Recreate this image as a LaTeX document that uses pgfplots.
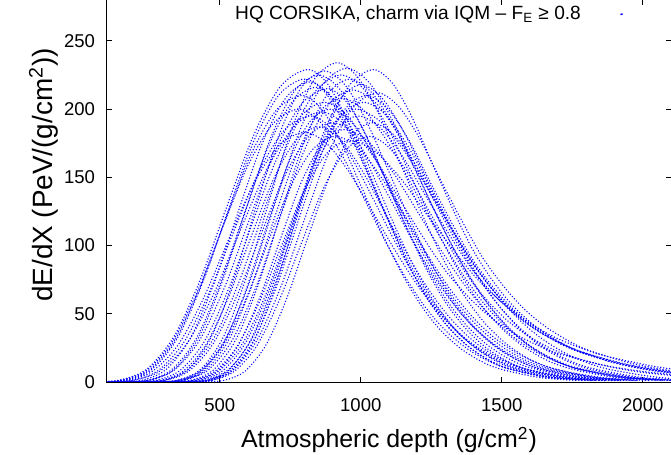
\documentclass[border=0pt]{standalone}
\usepackage{fontspec}
\setmainfont{Liberation Sans}
\usepackage{pgfplots}
\pgfplotsset{compat=1.18}
\begin{document}
\begin{tikzpicture}
\begin{axis}[
  scale only axis, width=282bp, height=191bp,
  xmin=100, xmax=2100, ymin=0, ymax=280,
  xtick={500,1000,1500,2000}, ytick={0,50,100,150,200,250},
  tick align=inside, major tick length=2.5bp,
  axis line style={line width=0.5bp, black},
  every tick/.style={black, line width=0.5bp},
  /pgf/number format/assume math mode=true,
  /pgf/number format/set thousands separator={},
  tick label style={font=\fontsize{9.3}{11}\selectfont},
  xticklabel style={yshift=-5bp},
  yticklabel style={xshift=-2.5bp},
  xlabel={Atmospheric depth (g/cm\textsuperscript{2})},
  ylabel={dE/dX (PeV/(g/cm\textsuperscript{2}))},
  xlabel style={font=\fontsize{12.5}{14}\selectfont, at={(axis description cs:0.5,-0.152)}, anchor=center},
  ylabel style={font=\fontsize{14}{16}\selectfont, at={(axis description cs:-0.112,0.542)}, anchor=center, rotate=0},
  legend plot pos=right,
  legend style={draw=none, fill=none, inner sep=0pt, nodes={inner sep=0pt},
    font=\fontsize{9.6}{11}\selectfont,
    at={(rel axis cs:0.919,0.963)}, anchor=east},
  legend image code/.code={\fill[blue] (0.70cm,0) circle (0.4bp); \path (0,0) (0.75cm,0);},
  cv/.style={blue, line width=0.75bp, line cap=round, dash pattern=on 0pt off 1.5bp, smooth},
]
% curve 1
\addplot[cv] coordinates {(195,0)(275,0.07)(355,1.5)(435,9.8)(515,33.9)(595,77.2)(675,132.7)(755,185.8)(835,221.8)(915,234)(990,223.2)(1065,196.1)(1140,160.5)(1215,124.0)(1290,91.0)(1365,63.8)(1440,43.1)(1515,28.1)(1590,17.7)(1665,10.9)(1815,3.8)(1965,1.2)};
\addlegendentry{HQ CORSIKA, charm via IQM -- F\textsubscript{E} ≥ 0.8}
% curve 2
\addplot[cv] coordinates {(-43,0)(52,0.07)(147,1.5)(242,9.6)(337,33.2)(432,75.6)(527,129.8)(622,181.8)(717,217.1)(812,229)(882,218.5)(952,191.9)(1022,157.1)(1092,121.4)(1162,89.1)(1232,62.4)(1302,42.1)(1372,27.5)(1442,17.3)(1512,10.6)(1652,3.7)(1792,1.2)};
% curve 3
\addplot[cv] coordinates {(278,0)(363,0.07)(448,1.5)(533,9.6)(618,33.2)(703,75.6)(788,129.8)(873,181.8)(958,217.1)(1043,229)(1113,218.7)(1183,193.5)(1253,160.3)(1323,128.2)(1393,98.5)(1463,75.6)(1533,57.3)(1603,43.5)(1673,33.2)(1743,25.2)(1883,14.9)(2023,8.7)(2163,5.0)};
% curve 4
\addplot[cv] coordinates {(85,0)(170,0.07)(255,1.5)(340,9.5)(425,32.6)(510,74.3)(595,127.6)(680,178.7)(765,213.3)(850,225)(925,214.7)(1000,188.6)(1075,154.4)(1150,119.3)(1225,87.5)(1300,61.3)(1375,41.4)(1450,27.0)(1525,17.0)(1600,10.5)(1750,3.7)(1900,1.2)};
% curve 5
\addplot[cv] coordinates {(240,0)(320,0.07)(400,1.4)(480,9.3)(560,32.2)(640,73.3)(720,125.9)(800,176.3)(880,210.5)(960,222)(1040,211.8)(1120,186.0)(1200,152.3)(1280,117.7)(1360,86.4)(1440,60.5)(1520,40.8)(1600,26.6)(1680,16.8)(1760,10.3)(1920,3.6)(2080,1.2)};
% curve 6
\addplot[cv] coordinates {(325,0)(400,0.07)(475,1.4)(550,9.2)(625,31.6)(700,71.9)(775,123.6)(850,173.1)(925,206.7)(1000,218)(1075,208.2)(1150,184.2)(1225,152.6)(1300,122.1)(1375,93.7)(1450,71.9)(1525,54.5)(1600,41.4)(1675,31.6)(1750,24.0)(1900,14.2)(2050,8.3)(2200,4.8)};
% curve 7
\addplot[cv] coordinates {(70,0)(160,0.06)(250,1.4)(340,9.0)(430,31.2)(520,71.0)(610,121.9)(700,170.7)(790,203.8)(880,215)(950,205.1)(1020,180.2)(1090,147.5)(1160,114.0)(1230,83.6)(1300,58.6)(1370,39.6)(1440,25.8)(1510,16.3)(1580,10.0)(1720,3.5)(1860,1.1)};
% curve 8
\addplot[cv] coordinates {(292,0)(377,0.06)(462,1.4)(547,8.9)(632,30.7)(717,70.0)(802,120.2)(887,168.3)(972,201.0)(1057,212)(1132,202.5)(1207,179.1)(1282,148.4)(1357,118.7)(1432,91.2)(1507,70.0)(1582,53.0)(1657,40.3)(1732,30.7)(1807,23.3)(1957,13.8)(2107,8.1)(2257,4.7)};
% curve 9
\addplot[cv] coordinates {(-20,0)(70,0.06)(160,1.4)(250,8.8)(340,30.5)(430,69.3)(520,119.1)(610,166.7)(700,199.1)(790,210)(860,200.3)(930,176.0)(1000,144.1)(1070,111.3)(1140,81.7)(1210,57.2)(1280,38.6)(1350,25.2)(1420,15.9)(1490,9.8)(1630,3.4)(1770,1.1)};
% curve 10
\addplot[cv] coordinates {(210,0)(290,0.06)(370,1.4)(450,8.7)(530,30.2)(610,68.6)(690,117.9)(770,165.2)(850,197.2)(930,208)(1015,198.4)(1100,174.3)(1185,142.7)(1270,110.2)(1355,80.9)(1440,56.7)(1525,38.3)(1610,25.0)(1695,15.7)(1780,9.7)(1950,3.4)(2120,1.1)};
% curve 11
\addplot[cv] coordinates {(105,0)(190,0.06)(275,1.3)(360,8.6)(445,29.7)(530,67.7)(615,116.2)(700,162.8)(785,194.3)(870,205)(950,195.6)(1030,171.8)(1110,140.6)(1190,108.7)(1270,79.7)(1350,55.9)(1430,37.7)(1510,24.6)(1590,15.5)(1670,9.5)(1830,3.3)(1990,1.1)};
% curve 12
\addplot[cv] coordinates {(305,0)(380,0.06)(455,1.3)(530,8.4)(605,29.0)(680,66.0)(755,113.4)(830,158.8)(905,189.6)(980,200)(1070,190.8)(1160,167.6)(1250,137.2)(1340,106.0)(1430,77.8)(1520,54.5)(1610,36.8)(1700,24.0)(1790,15.1)(1880,9.3)(2060,3.3)(2240,1.1)};
% curve 13
\addplot[cv] coordinates {(10,0)(100,0.06)(190,1.3)(280,8.2)(370,28.3)(460,64.4)(550,110.6)(640,154.8)(730,184.9)(820,195)(895,186.0)(970,163.4)(1045,133.8)(1120,103.4)(1195,75.9)(1270,53.1)(1345,35.9)(1420,23.4)(1495,14.8)(1570,9.1)(1720,3.2)(1870,1.0)};
% curve 14
\addplot[cv] coordinates {(135,0)(220,0.06)(305,1.2)(390,8.0)(475,27.6)(560,62.7)(645,107.7)(730,150.9)(815,180.1)(900,190)(980,181.5)(1060,160.6)(1140,133.0)(1220,106.4)(1300,81.7)(1380,62.7)(1460,47.5)(1540,36.1)(1620,27.6)(1700,20.9)(1860,12.4)(2020,7.2)(2180,4.2)};
% curve 15
\addplot[cv] coordinates {(130,0)(210,0.06)(290,1.2)(370,7.9)(450,27.1)(530,61.7)(610,106.0)(690,148.5)(770,177.3)(850,187)(925,178.4)(1000,156.7)(1075,128.3)(1150,99.1)(1225,72.7)(1300,51.0)(1375,34.4)(1450,22.4)(1525,14.2)(1600,8.7)(1750,3.0)(1900,1.0)};
% curve 16
\addplot[cv] coordinates {(265,0)(340,0.06)(415,1.2)(490,7.8)(565,26.8)(640,61.1)(715,104.9)(790,146.9)(865,175.4)(940,185)(1025,176.5)(1110,155.0)(1195,126.9)(1280,98.1)(1365,72.0)(1450,50.4)(1535,34.0)(1620,22.2)(1705,14.0)(1790,8.6)(1960,3.0)(2130,1.0)};
% curve 17
\addplot[cv] coordinates {(-10,0)(80,0.05)(170,1.2)(260,7.7)(350,26.5)(440,60.4)(530,103.8)(620,145.3)(710,173.5)(800,183)(880,174.6)(960,153.4)(1040,125.5)(1120,97.0)(1200,71.2)(1280,49.9)(1360,33.7)(1440,22.0)(1520,13.9)(1600,8.5)(1760,3.0)(1920,1.0)};
% curve 18
\addplot[cv] coordinates {(240,0)(320,0.05)(400,1.2)(480,7.4)(560,25.7)(640,58.4)(720,100.4)(800,140.5)(880,167.8)(960,177)(1050,169.0)(1140,149.6)(1230,123.9)(1320,99.1)(1410,76.1)(1500,58.4)(1590,44.3)(1680,33.6)(1770,25.7)(1860,19.5)(2040,11.5)(2220,6.7)(2400,3.9)};
% curve 19
\addplot[cv] coordinates {(310,0)(390,0.05)(470,1.2)(550,7.6)(630,26.1)(710,59.4)(790,102.1)(870,142.9)(950,170.6)(1030,180)(1100,171.9)(1170,152.1)(1240,126.0)(1310,100.8)(1380,77.4)(1450,59.4)(1520,45.0)(1590,34.2)(1660,26.1)(1730,19.8)(1870,11.7)(2010,6.8)(2150,4.0)};
% curve 20
\addplot[cv] coordinates {(215,0)(290,0.06)(365,1.3)(440,8.4)(515,29.0)(590,66.0)(665,113.4)(740,158.8)(815,189.6)(890,200)(965,190.8)(1040,167.6)(1115,137.2)(1190,106.0)(1265,77.8)(1340,54.5)(1415,36.8)(1490,24.0)(1565,15.1)(1640,9.3)(1790,3.3)(1940,1.1)};
% curve 21
\addplot[cv] coordinates {(245,0)(330,0.06)(415,1.3)(500,8.6)(585,29.7)(670,67.7)(755,116.2)(840,162.8)(925,194.3)(1010,205)(1090,195.6)(1170,171.8)(1250,140.6)(1330,108.7)(1410,79.7)(1490,55.9)(1570,37.7)(1650,24.6)(1730,15.5)(1810,9.5)(1970,3.3)(2130,1.1)};
% curve 22
\addplot[cv] coordinates {(75,0)(160,0.06)(245,1.4)(330,9.1)(415,31.3)(500,71.3)(585,122.5)(670,171.5)(755,204.8)(840,216)(910,206.1)(980,181.0)(1050,148.2)(1120,114.5)(1190,84.0)(1260,58.9)(1330,39.7)(1400,25.9)(1470,16.4)(1540,10.0)(1680,3.5)(1820,1.1)};
% curve 23
\addplot[cv] coordinates {(185,0)(270,0.07)(355,1.5)(440,9.7)(525,33.4)(610,75.9)(695,130.4)(780,182.6)(865,218.0)(950,230)(1030,219.4)(1110,192.7)(1190,157.8)(1270,121.9)(1350,89.5)(1430,62.7)(1510,42.3)(1590,27.6)(1670,17.4)(1750,10.7)(1910,3.7)(2070,1.2)};
% curve 24
\addplot[cv] coordinates {(-30,0)(60,0.06)(150,1.3)(240,8.4)(330,29.0)(420,66.0)(510,113.4)(600,158.8)(690,189.6)(780,200)(855,190.8)(930,167.6)(1005,137.2)(1080,106.0)(1155,77.8)(1230,54.5)(1305,36.8)(1380,24.0)(1455,15.1)(1530,9.3)(1680,3.3)(1830,1.1)};
% curve 25
\addplot[cv] coordinates {(150,0)(230,0.07)(310,1.5)(390,9.6)(470,33.1)(550,75.2)(630,129.3)(710,181.0)(790,216.1)(870,228)(945,217.5)(1020,191.1)(1095,156.4)(1170,120.8)(1245,88.7)(1320,62.1)(1395,42.0)(1470,27.4)(1545,17.3)(1620,10.6)(1770,3.7)(1920,1.2)};
% curve 26
\addplot[cv] coordinates {(270,0)(350,0.06)(430,1.3)(510,8.2)(590,28.3)(670,64.4)(750,110.6)(830,154.8)(910,184.9)(990,195)(1070,186.2)(1150,164.8)(1230,136.5)(1310,109.2)(1390,83.9)(1470,64.4)(1550,48.8)(1630,37.1)(1710,28.3)(1790,21.5)(1950,12.7)(2110,7.4)(2270,4.3)};
% curve 27
\addplot[cv] coordinates {(55,0)(140,0.07)(225,1.4)(310,9.2)(395,31.9)(480,72.6)(565,124.7)(650,174.7)(735,208.6)(820,220)(890,209.9)(960,184.4)(1030,150.9)(1100,116.6)(1170,85.6)(1240,60.0)(1310,40.5)(1380,26.4)(1450,16.7)(1520,10.2)(1660,3.6)(1800,1.2)};
% curve 28
\addplot[cv] coordinates {(190,0)(270,0.05)(350,1.2)(430,7.6)(510,26.1)(590,59.4)(670,102.1)(750,142.9)(830,170.6)(910,180)(990,171.7)(1070,150.8)(1150,123.5)(1230,95.4)(1310,70.0)(1390,49.1)(1470,33.1)(1550,21.6)(1630,13.6)(1710,8.4)(1870,2.9)(2030,1.0)};
% curve 29
\addplot[cv] coordinates {(120,0)(210,0.07)(300,1.5)(390,9.5)(480,32.6)(570,74.3)(660,127.6)(750,178.7)(840,213.3)(930,225)(1010,214.7)(1090,188.6)(1170,154.4)(1250,119.3)(1330,87.5)(1410,61.3)(1490,41.4)(1570,27.0)(1650,17.0)(1730,10.5)(1890,3.7)(2050,1.2)};
% curve 30
\addplot[cv] coordinates {(300,0)(380,0.06)(460,1.4)(540,8.8)(620,30.5)(700,69.3)(780,119.1)(860,166.7)(940,199.1)(1020,210)(1095,200.6)(1170,177.5)(1245,147.0)(1320,117.6)(1395,90.3)(1470,69.3)(1545,52.5)(1620,39.9)(1695,30.5)(1770,23.1)(1920,13.7)(2070,8.0)(2220,4.6)};
% curve 31
\addplot[cv] coordinates {(5,0)(100,0.06)(195,1.3)(290,8.3)(385,28.7)(480,65.3)(575,112.3)(670,157.2)(765,187.7)(860,198)(940,188.9)(1020,165.9)(1100,135.8)(1180,104.9)(1260,77.0)(1340,54.0)(1420,36.4)(1500,23.8)(1580,15.0)(1660,9.2)(1820,3.2)(1980,1.0)};
% curve 32
\addplot[cv] coordinates {(205,0)(290,0.06)(375,1.4)(460,9.0)(545,31.0)(630,70.6)(715,121.3)(800,169.9)(885,202.9)(970,214)(1055,204.2)(1140,179.3)(1225,146.8)(1310,113.4)(1395,83.2)(1480,58.3)(1565,39.4)(1650,25.7)(1735,16.2)(1820,10.0)(1990,3.5)(2160,1.1)};
% curve 33
\addplot[cv] coordinates {(-10,0)(80,0.07)(170,1.4)(260,9.3)(350,32.2)(440,73.3)(530,125.9)(620,176.3)(710,210.5)(800,222)(875,211.8)(950,186.0)(1025,152.3)(1100,117.7)(1175,86.4)(1250,60.5)(1325,40.8)(1400,26.6)(1475,16.8)(1550,10.3)(1700,3.6)(1850,1.2)};
% curve 34
\addplot[cv] coordinates {(365,0)(440,0.06)(515,1.2)(590,8.0)(665,27.6)(740,62.7)(815,107.7)(890,150.9)(965,180.1)(1040,190)(1115,181.5)(1190,160.6)(1265,133.0)(1340,106.4)(1415,81.7)(1490,62.7)(1565,47.5)(1640,36.1)(1715,27.6)(1790,20.9)(1940,12.4)(2090,7.2)(2240,4.2)};
\end{axis}
\pgfresetboundingbox
\path[use as bounding box] ([xshift=-53.5bp,yshift=-36.5bp]current axis.south west) rectangle (current axis.north east);
\end{tikzpicture}
\end{document}
